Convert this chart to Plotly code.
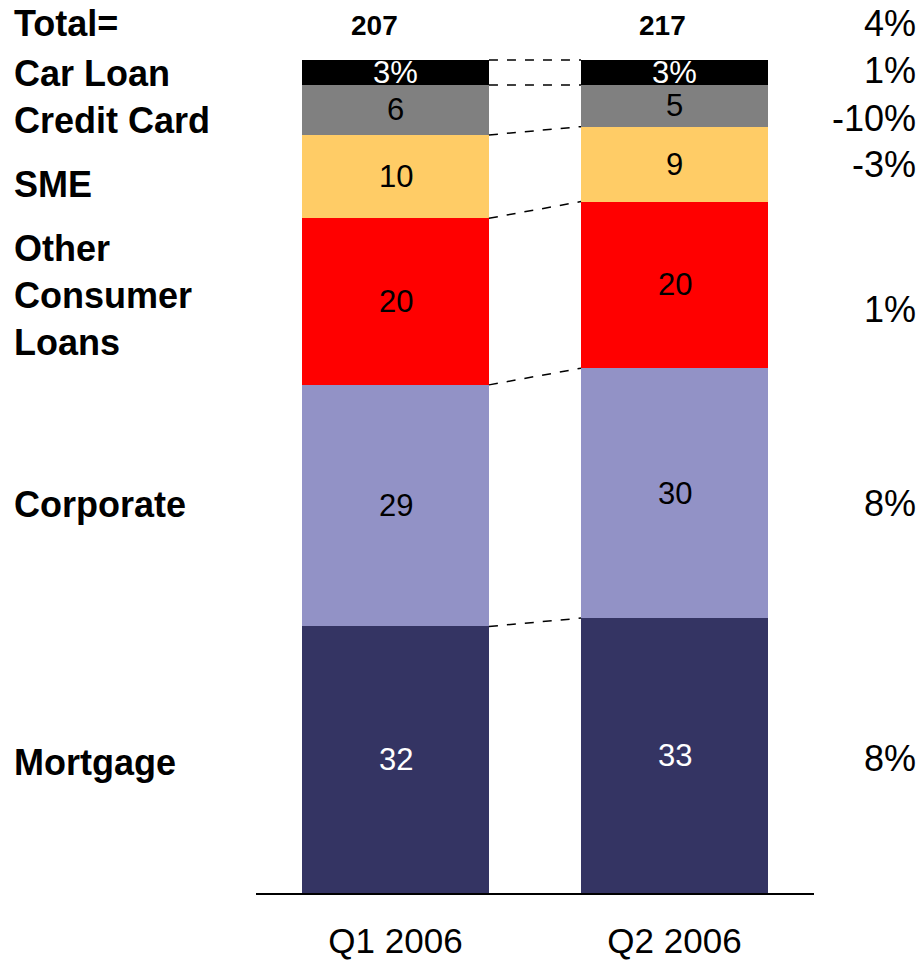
import plotly.graph_objects as go

# Loan portfolio mix (% of total), stacked bottom to top
periods = ["Q1 2006", "Q2 2006"]
segments = ["Mortgage", "Corporate", "Other Consumer Loans", "SME", "Credit Card", "Car Loan"]
share_q1 = [32, 29, 20, 10, 6, 3]
share_q2 = [33, 30, 20, 9, 5, 3]
totals = [207, 217]
growth_total = "4%"
growth = ["8%", "8%", "1%", "-3%", "-10%", "1%"]
side_labels = ["Mortgage", "Corporate", "Other<br>Consumer<br>Loans", "SME", "Credit Card", "Car Loan"]

colors = ["#343463", "#9292C6", "#FF0000", "#FFCC66", "#808080", "#000000"]
label_colors = ["white", "black", "black", "black", "black", "white"]

FONT = "Liberation Sans, Arial, sans-serif"
BAR_W = 0.67
x_pos = [0, 1]
Y_TOP = 100 * 893 / 833  # headroom above the 100% stack for the totals row

fig = go.Figure()
for i, name in enumerate(segments):
    fig.add_trace(go.Bar(
        x=x_pos, y=[share_q1[i], share_q2[i]], name=name,
        width=BAR_W, marker=dict(color=colors[i], line=dict(width=0)),
        hoverinfo="skip", showlegend=False,
    ))

annotations = []
shapes = []

# value labels at segment midpoints, dashed connectors at segment tops
cum = [0, 0]
for i in range(len(segments)):
    vals = [share_q1[i], share_q2[i]]
    tops = []
    for j in range(2):
        mid = cum[j] + vals[j] / 2
        txt = f"{vals[j]}%" if i == len(segments) - 1 else f"{vals[j]}"
        annotations.append(dict(
            x=x_pos[j], y=mid, xref="x", yref="y", text=txt, showarrow=False,
            font=dict(family=FONT, size=31, color=label_colors[i]),
            xanchor="center", yanchor="middle",
        ))
        cum[j] += vals[j]
        tops.append(cum[j])
    shapes.append(dict(
        type="line", xref="x", yref="y",
        x0=x_pos[0] + BAR_W / 2, y0=tops[0], x1=x_pos[1] - BAR_W / 2, y1=tops[1],
        line=dict(color="black", width=1.5, dash="dash"),
    ))

# totals above the bars
total_shift = [-0.075, -0.043]
for j in range(2):
    annotations.append(dict(
        x=x_pos[j] + total_shift[j], y=104.2, xref="x", yref="y", text=f"<b>{totals[j]}</b>",
        showarrow=False, font=dict(family=FONT, size=28, color="black"),
        xanchor="center", yanchor="middle",
    ))

# left-hand segment names and right-hand growth rates
left_y = [15.7, 46.6, 71.7, 85.0, 92.7, 98.4]
right_y = [16.2, 46.8, 70.0, 87.4, 93.0, 98.8]
LX = 12 / 922
RX = 918 / 922
annotations.append(dict(
    x=LX, y=104.4, xref="paper", yref="y", text="<b>Total=</b>",
    showarrow=False, font=dict(family=FONT, size=36, color="black"),
    xanchor="left", yanchor="middle", align="left",
))
annotations.append(dict(
    x=RX, y=104.4, xref="paper", yref="y", text=growth_total,
    showarrow=False, font=dict(family=FONT, size=36, color="black"),
    xanchor="right", yanchor="middle", align="right",
))
for i in range(len(segments)):
    annotations.append(dict(
        x=LX, y=left_y[i], xref="paper", yref="y", text=f"<b>{side_labels[i]}</b>",
        showarrow=False, font=dict(family=FONT, size=36, color="black"),
        xanchor="left", yanchor="middle", align="left",
    ))
    annotations.append(dict(
        x=RX, y=right_y[i], xref="paper", yref="y", text=growth[i],
        showarrow=False, font=dict(family=FONT, size=36, color="black"),
        xanchor="right", yanchor="middle", align="right",
    ))

fig.update_layout(
    width=922, height=963,
    margin=dict(l=0, r=0, t=0, b=70),
    barmode="stack", bargap=0,
    paper_bgcolor="white", plot_bgcolor="white",
    annotations=annotations, shapes=shapes,
    xaxis=dict(
        domain=[256 / 922, 814 / 922], range=[-0.5, 1.5],
        tickvals=x_pos, ticktext=periods,
        tickfont=dict(family=FONT, size=35, color="black"),
        showline=True, linecolor="black", linewidth=2,
        ticks="outside", ticklen=16, tickcolor="rgba(0,0,0,0)",
        showgrid=False, zeroline=False, fixedrange=True, automargin=False,
    ),
    yaxis=dict(
        range=[0, Y_TOP], visible=False, showgrid=False, zeroline=False,
        fixedrange=True, automargin=False,
    ),
)

fig.write_html("out.html")
